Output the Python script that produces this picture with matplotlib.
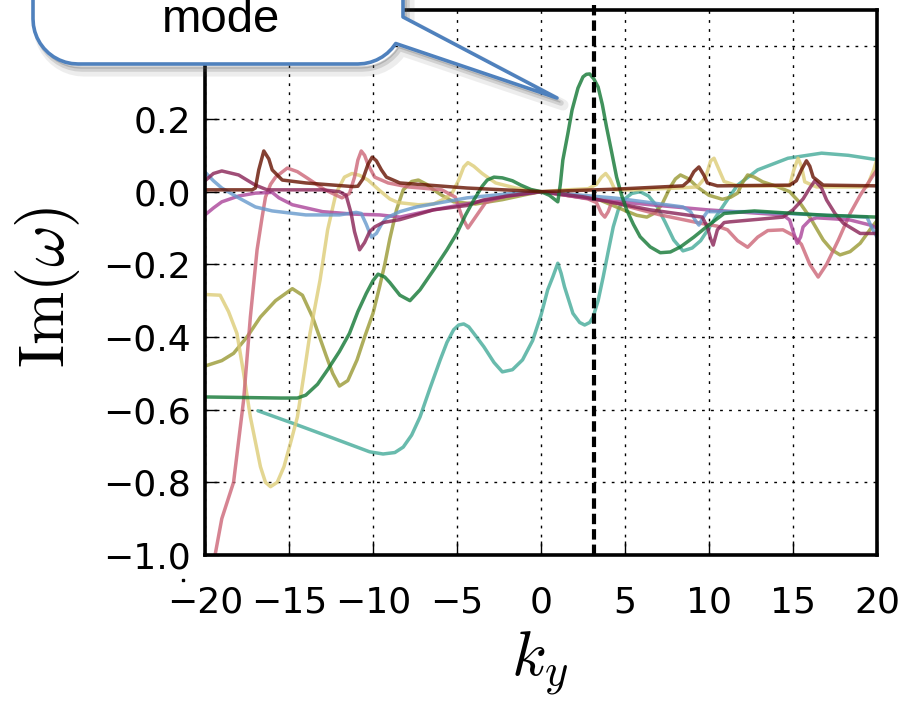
import matplotlib
matplotlib.use("Agg")
import matplotlib.pyplot as plt
import numpy as np
from matplotlib.patches import Polygon
from matplotlib.lines import Line2D

plt.rcParams["mathtext.fontset"] = "cm"

# growth rate branches, Im(omega) vs k_y
green_k = [-20, -15.5, -14.5, -14, -13.3, -12.7, -12, -11.4, -10.9, -10.4, -10.0, -9.7, -9.3, -9, -8.4, -7.8,
           -7.2, -6.4, -5.6, -5.0, -4.5, -4.0, -3.5, -3.2, -2.8, -2.3, -1.7, -1.2, -0.6, 0, 0.5, 1.0, 1.15, 1.3,
           1.6, 1.85, 2.2, 2.5, 2.7, 2.9, 3.15, 3.4, 3.65, 3.9, 4.2, 4.5, 4.8, 5.1, 5.5, 5.9, 6.5, 7.1, 7.7,
           8.3, 9.1, 9.9, 10.9, 12.7, 14.4, 17, 20]
green_v = [-0.565, -0.568, -0.568, -0.56, -0.53, -0.49, -0.44, -0.39, -0.33, -0.28, -0.245, -0.227, -0.235,
           -0.25, -0.285, -0.30, -0.27, -0.216, -0.16, -0.114, -0.065, -0.023, 0.015, 0.032, 0.04, 0.038,
           0.03, 0.018, 0.006, 0.0, -0.01, -0.028, 0.02, 0.087, 0.16, 0.225, 0.285, 0.316, 0.323, 0.324,
           0.31, 0.288, 0.24, 0.178, 0.11, 0.04, -0.01, -0.05, -0.09, -0.124, -0.152, -0.168, -0.166,
           -0.152, -0.125, -0.095, -0.06, -0.053, -0.058, -0.065, -0.07]

teal_k = [-16.85, -14.8, -12.4, -10.2, -9.4, -8.7, -8.2, -7.7, -7.2, -6.6, -6.0, -5.6, -5.2, -4.9, -4.6,
          -4.3, -4.0, -3.4, -2.8, -2.3, -1.7, -1.1, -0.5, 0.0, 0.4, 0.7, 1.0, 1.2, 1.4, 1.9, 2.3, 2.6, 2.9,
          3.1, 3.4, 3.7, 4.0, 4.3, 4.6, 4.9, 5.4, 5.9, 6.4, 6.9, 7.4, 7.9, 8.45, 9.0, 9.5, 10.0, 10.4, 10.95,
          11.7, 12.9, 14.7, 16.7, 18.3, 20]
teal_v = [-0.603, -0.637, -0.678, -0.716, -0.722, -0.718, -0.703, -0.67, -0.62, -0.54, -0.463, -0.415,
          -0.38, -0.367, -0.364, -0.372, -0.39, -0.427, -0.47, -0.496, -0.49, -0.463, -0.41, -0.34, -0.27,
          -0.235, -0.197, -0.225, -0.262, -0.335, -0.36, -0.367, -0.36, -0.345, -0.3, -0.235, -0.165,
          -0.097, -0.05, -0.023, -0.005, 0.0, -0.012, -0.04, -0.085, -0.133, -0.163, -0.155, -0.135, -0.1,
          -0.07, -0.032, 0.018, 0.06, 0.092, 0.106, 0.1, 0.088]

olive_k = [-20, -19, -18.3, -17.5, -16.7, -15.8, -14.8, -14.2, -13.6, -12.8, -12.4, -12.0, -11.5, -10.95,
           -10.5, -10.0, -9.6, -9.3, -9.0, -8.6, -8.2, -7.7, -7.3, -6.8, -6.4, -5.9, -5.2, -3.9, -2.3, -0.9,
           0, 1.5, 3.5, 4.9, 5.7, 6.3, 6.8, 7.2, 7.7, 8.0, 8.3, 8.8, 9.3, 10.0, 10.8, 11.3, 11.7, 12.0, 12.3,
           12.7, 13.2, 14.0, 14.8, 15.4, 16.0, 16.8, 17.3, 17.8, 18.4, 19.0, 19.7, 20]
olive_v = [-0.48, -0.465, -0.445, -0.40, -0.345, -0.30, -0.267, -0.285, -0.345, -0.45, -0.50, -0.535,
           -0.52, -0.463, -0.40, -0.335, -0.26, -0.2, -0.13, -0.05, 0.005, 0.028, 0.032, 0.02, 0.005, -0.01,
           -0.028, -0.034, -0.022, -0.008, 0.0, -0.01, -0.023, -0.05, -0.065, -0.07, -0.058, -0.035, 0.013,
           0.035, 0.046, 0.035, 0.013, -0.01, -0.021, -0.015, -0.004, 0.025, 0.046, 0.04, 0.027, 0.015, 0.0,
           -0.03, -0.07, -0.133, -0.16, -0.174, -0.165, -0.142, -0.097, -0.08]

sand_k = [-20, -19.1, -18.6, -18.1, -17.7, -17.3, -16.7, -16.4, -16.1, -15.7, -15.3, -14.9, -14.5,
          -14.1, -13.75, -13.15, -12.7, -12.2, -11.7, -11.25, -10.8, -10.3, -9.6, -9.0, -8.5, -7.3, -6.4,
          -5.9, -5.3, -4.9, -4.6, -4.35, -4.0, -3.5, -2.7, -1.5, 0, 1.5, 2.8, 3.3, 3.6, 3.85, 4.1, 4.4, 5.5,
          7.0, 8.1, 9.3, 9.8, 10.1, 10.3, 10.6, 10.9, 11.7, 14.8, 15.05, 15.3, 15.5, 15.7, 16.4, 19.4, 19.8,
          20]
sand_v = [-0.283, -0.285, -0.33, -0.39, -0.50, -0.62, -0.757, -0.80, -0.812, -0.80, -0.757, -0.69,
          -0.62, -0.50, -0.39, -0.243, -0.105, -0.004, 0.04, 0.05, 0.045, 0.032, 0.003, -0.02, -0.03,
          -0.036, -0.034, -0.023, -0.005, 0.032, 0.068, 0.08, 0.07, 0.05, 0.024, 0.01, 0.0, 0.005, 0.008,
          0.02, 0.04, 0.05, 0.035, 0.005, 0.005, 0.008, 0.01, 0.013, 0.04, 0.085, 0.092, 0.06, 0.028,
          0.016, 0.016, 0.06, 0.092, 0.07, 0.027, 0.013, 0.013, 0.06, 0.09]

rose_k = [-19.6, -19.4, -19.0, -18.3, -17.7, -17.3, -16.9, -16.6, -16.4, -16.1, -15.8, -15.1, -14.5,
          -14.0, -12.86, -11.85, -11.4, -11.1, -10.9, -10.7, -10.5, -10.3, -9.9, -9.1, -7.9, -5.9, -5.1,
          -4.7, -4.35, -3.9, -3.3, -2.0, 0, 1.5, 2.8, 3.3, 3.6, 3.8, 4.0, 4.2, 4.6, 5.1, 7.1, 9.5, 10.5,
          11.1, 11.7, 12.3, 12.9, 13.5, 14.4, 15.0, 15.5, 16.0, 16.5, 17.0, 17.7, 18.4, 19.0, 19.7, 20]
rose_v = [-1.06, -1.0, -0.90, -0.80, -0.573, -0.345, -0.16, -0.07, -0.015, 0.02, 0.04, 0.065, 0.055,
          0.04, 0.005, -0.017, -0.005, 0.04, 0.087, 0.112, 0.1, 0.075, 0.04, 0.024, 0.013, 0.005, -0.015,
          -0.07, -0.1, -0.07, -0.03, -0.01, 0.0, -0.01, -0.02, -0.03, -0.06, -0.07, -0.055, -0.03, -0.032,
          -0.04, -0.064, -0.087, -0.095, -0.105, -0.135, -0.153, -0.125, -0.107, -0.105, -0.12, -0.145,
          -0.2, -0.235, -0.2, -0.133, -0.06, -0.01, 0.04, 0.06]

wine_k = [-20, -19.5, -19, -18, -17, -16.3, -16, -13, -12, -11.6, -11.3, -11.1, -10.8, -10.5, -10.2,
          -9.9, -9.4, -8.4, -6.4, -4.4, -3.45, -2, 0, 2.5, 6.5, 9.6, 9.9, 10.1, 10.25, 10.5, 10.9, 11.25,
          14.4, 15.0, 15.6, 16.0, 16.3, 16.7, 17.0, 17.5, 18.0, 19.0, 20]
wine_v = [0.03, 0.05, 0.057, 0.046, 0.018, 0.005, 0.005, 0.005, 0.0, -0.01, -0.06, -0.11, -0.16, -0.14,
          -0.11, -0.097, -0.085, -0.077, -0.05, -0.038, -0.023, -0.012, 0.0, -0.014, -0.05, -0.07, -0.097,
          -0.13, -0.147, -0.105, -0.085, -0.083, -0.07, -0.05, -0.02, 0.01, 0.03, 0.01, -0.023, -0.06,
          -0.087, -0.115, -0.115]

purple_k = [-20, -19.5, -19, -18, -17, -16, -15.6, -14.8, -13, -11.1, -9.6, -8.4, -6.4, -4, -2, 0, 3,
            6.5, 9.9, 14.4, 14.8, 15.05, 15.25, 15.45, 15.6, 16.0, 16.4, 17.5, 18.4, 19.6, 20]
purple_v = [-0.064, -0.045, -0.028, -0.012, -0.004, -0.002, -0.017, -0.036, -0.055, -0.062, -0.064,
            -0.07, -0.05, -0.03, -0.012, 0.0, -0.02, -0.036, -0.05, -0.064, -0.078, -0.115, -0.142, -0.125,
            -0.097, -0.078, -0.072, -0.075, -0.078, -0.092, -0.1]

blue_k = [-20, -19.5, -19, -18, -17, -16, -14, -12, -11, -10.7, -10.4, -10.1, -9.8, -9.5, -9.2, -8.4,
          -7.4, -4.4, -2, 0, 4.5, 8.45, 8.9, 9.2, 9.4, 9.6, 9.9, 12.4, 16.4, 19.4, 19.7, 20]
blue_v = [0.054, 0.03, 0.01, -0.017, -0.042, -0.053, -0.064, -0.064, -0.057, -0.06, -0.09, -0.125,
          -0.115, -0.09, -0.072, -0.055, -0.042, -0.017, -0.006, 0.0, -0.018, -0.042, -0.055, -0.08,
          -0.092, -0.075, -0.055, -0.055, -0.064, -0.07, -0.1, -0.125]

brown_k = [-20, -17.2, -17.0, -16.8, -16.5, -16.2, -16.0, -15.4, -14, -11.2, -10.9, -10.6, -10.3, -10.05,
           -9.8, -9.5, -9.2, -8.4, -4.4, 0, 4.5, 8.45, 8.8, 9.1, 9.4, 9.7, 9.9, 10.5, 14.8, 15.2, 15.5, 15.8,
           16.0, 16.2, 16.8, 20]
brown_v = [0.005, 0.005, 0.01, 0.06, 0.112, 0.09, 0.06, 0.032, 0.024, 0.014, 0.015, 0.035, 0.075, 0.095,
           0.085, 0.06, 0.04, 0.024, 0.01, 0.0, 0.007, 0.016, 0.03, 0.055, 0.068, 0.045, 0.024, 0.016, 0.018,
           0.03, 0.06, 0.085, 0.07, 0.04, 0.018, 0.016]

k_marked = 3.15
callout_text = "mode"
x_ticks = [-20, -15, -10, -5, 0, 5, 10, 15, 20]
y_ticks = [-1.0, -0.8, -0.6, -0.4, -0.2, 0.0, 0.2, 0.4]
# the 0.4 label sits under the callout in the original, so it stays blank
y_ticklabels = ["\u22121.0", "\u22120.8", "\u22120.6", "\u22120.4", "\u22120.2", "0.0", "0.2", ""]

series = [
    (teal_k, teal_v, "#44AA99"),
    (olive_k, olive_v, "#999933"),
    (sand_k, sand_v, "#DDCC77"),
    (rose_k, rose_v, "#CC6677"),
    (purple_k, purple_v, "#AA4499"),
    (blue_k, blue_v, "#6699CC"),
    (wine_k, wine_v, "#882255"),
    (green_k, green_v, "#117733"),
    (brown_k, brown_v, "#661100"),
]

W, H = 903, 701
fig = plt.figure(figsize=(W / 100, H / 100), dpi=100)
ax = fig.add_axes([205 / W, 1 - 555 / H, 672 / W, 545 / H])

for k, v, c in series:
    ax.plot(k, v, color=c, lw=2.5, alpha=0.8, solid_capstyle="round", solid_joinstyle="round")

ax.plot([k_marked, k_marked], [-1.0, 0.56], color="black", lw=3, dashes=(2.5, 1.2), clip_on=False, zorder=5)

ax.set_xlim(-20, 20)
ax.set_ylim(-1.0, 0.5)
ax.set_xticks(x_ticks)
ax.set_yticks(y_ticks)
ax.set_yticklabels(y_ticklabels)
ax.grid(True, color="black", lw=1.0, dashes=(2, 4.5))
ax.tick_params(direction="in", length=10, width=1, labelsize=26)
ax.tick_params(axis="x", pad=22)
ax.tick_params(axis="y", pad=10)
for s in ax.spines.values():
    s.set_linewidth(2.6)

ax.set_xlabel(r"$k_y$", fontsize=46)
ax.set_ylabel(r"$\mathrm{Im}(\omega)$", fontsize=46)
ax.xaxis.set_label_coords(0.4985, -0.137)
ax.yaxis.set_label_coords(-0.183, 0.492)


# speech-bubble callout, drawn in pixel units of the picture (y downwards)
def px(pts):
    return [(x / W, 1 - y / H) for x, y in pts]


r = 45
bot = 64
pts = [(33, -60), (33, bot - r)]
for t in np.linspace(180, 90, 12):
    a = np.radians(t)
    pts.append((33 + r + r * np.cos(a), bot - r + r * np.sin(a)))
for t in np.linspace(90, 33, 8):
    a = np.radians(t)
    pts.append((403 - r + r * np.cos(a), bot - r + r * np.sin(a)))
pts += [(557, 98), (403, 17), (403, -60)]

for dx, dy, al, lw in [(6, 7, 0.10, 8), (4, 5, 0.18, 4), (3, 4, 0.25, 1)]:
    fig.add_artist(Polygon(px([(x + dx, y + dy) for x, y in pts]), closed=True, transform=fig.transFigure,
                           facecolor="none", edgecolor="#555555", lw=lw, alpha=al, zorder=9,
                           joinstyle="round"))
fig.add_artist(Polygon(px(pts), closed=True, transform=fig.transFigure, facecolor="white",
                       edgecolor="#4F81BD", lw=2.6, zorder=10, joinstyle="round"))
fig.text(221 / W, 1 - 32 / H, callout_text, fontsize=34, family="Liberation Sans", ha="center",
         va="baseline", zorder=11)

fig.add_artist(Line2D([183 / W], [1 - 580 / H], marker="s", ms=2, color="black", transform=fig.transFigure))

fig.savefig("out.png", dpi=100)
